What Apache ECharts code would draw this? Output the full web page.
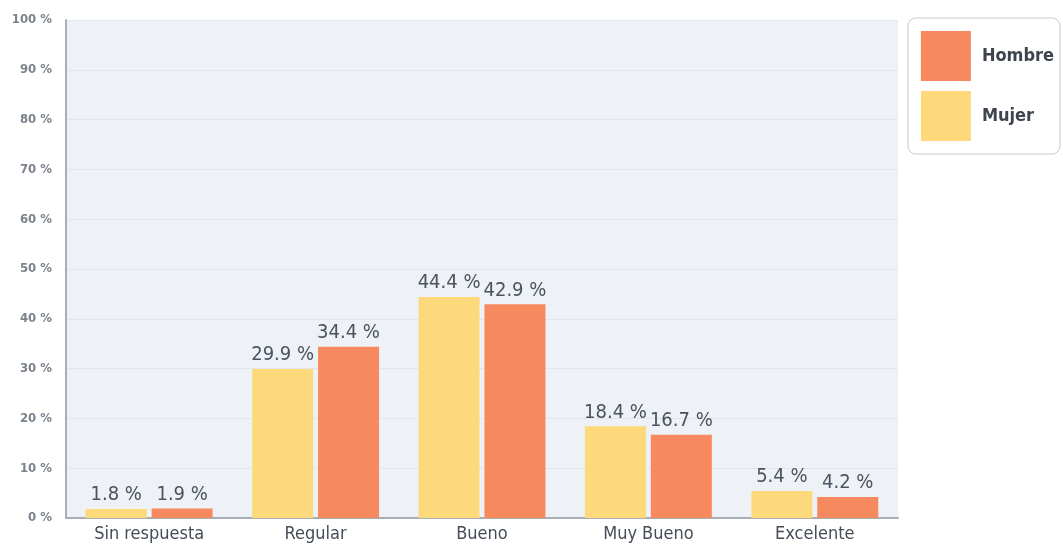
<!DOCTYPE html>
<html><head><meta charset="utf-8">
<script src="https://cdn.jsdelivr.net/npm/echarts@6/dist/echarts.min.js"></script>
<style>html,body{margin:0;padding:0;background:#fff}#c{width:1063px;height:550px}</style>
</head><body><div id="c"></div>
<script>
const categories = ['Sin respuesta', 'Regular', 'Bueno', 'Muy Bueno', 'Excelente'];
const mujer = [1.8, 29.9, 44.4, 18.4, 5.4];
const hombre = [1.9, 34.4, 42.9, 16.7, 4.2];
const yTicks = [0, 10, 20, 30, 40, 50, 60, 70, 80, 90, 100];

const FONT = "'DejaVu Sans Condensed', 'DejaVu Sans', sans-serif";
const chart = echarts.init(document.getElementById('c'), null, {renderer: 'canvas'});
const labelCfg = {
  show: true, position: 'top', distance: 4,
  fontFamily: FONT, fontSize: 20, color: '#4a5360',
  formatter: p => p.value.toFixed(1) + ' %'
};
chart.setOption({
  animation: false,
  textStyle: {fontFamily: FONT},
  grid: {left: 66, right: 165, top: 20, bottom: 32, show: true,
         backgroundColor: '#eef1f5', borderWidth: 0},
  legend: {
    data: ['Hombre', 'Mujer'], orient: 'vertical',
    right: 3, top: 18,
    padding: [13, 6, 13, 13], itemGap: 10,
    itemWidth: 50, itemHeight: 50,
    borderColor: '#c5cad2', borderWidth: 1, borderRadius: 8,
    backgroundColor: '#fff',
    textStyle: {fontFamily: FONT, fontSize: 18, fontWeight: 'bold', color: '#3d444d', padding: [0, 0, 0, 6]},
    icon: 'rect'
  },
  xAxis: {
    type: 'category', data: categories,
    axisLine: {lineStyle: {color: '#a8aeb7', width: 2}},
    axisTick: {show: false},
    axisLabel: {fontFamily: FONT, fontSize: 18, color: '#454d58', margin: 7}
  },
  yAxis: {
    type: 'value', min: 0, max: 100, interval: 10,
    axisLine: {show: true, lineStyle: {color: '#a8aeb7', width: 2}},
    axisTick: {show: false},
    splitLine: {lineStyle: {color: '#e2e6eb', width: 1}},
    axisLabel: {fontFamily: FONT, fontSize: 13, fontWeight: 'bold', color: '#7b828c', margin: 14,
      formatter: v => yTicks.includes(v) ? v + ' %' : ''}
  },
  series: [
    {name: 'Mujer', type: 'bar', data: mujer, barWidth: 61, barGap: '8%',
     itemStyle: {color: '#fdd97c'}, label: labelCfg},
    {name: 'Hombre', type: 'bar', data: hombre, barWidth: 61,
     itemStyle: {color: '#f7895f'}, label: labelCfg}
  ]
});
</script></body></html>
